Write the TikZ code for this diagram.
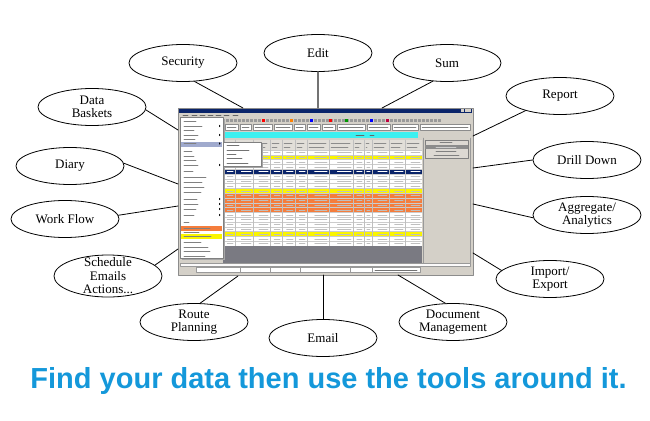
\documentclass[tikz,border=0pt]{standalone}
\usepackage{fontspec}
\setmainfont{Liberation Serif}
\newfontfamily\headfont{Liberation Sans}
\usepackage{tikz}
\usetikzlibrary{shapes}
\definecolor{winnavy}{RGB}{10,36,106}
\definecolor{wingray}{RGB}{212,208,200}
\definecolor{rowyellow}{RGB}{250,245,0}
\definecolor{roworange}{RGB}{245,125,60}
\definecolor{rowcyan}{RGB}{60,240,240}
\definecolor{darkarea}{RGB}{122,122,130}
\definecolor{menublue}{RGB}{160,170,205}
\definecolor{headblue}{RGB}{20,152,218}
\tikzset{tool/.style={draw,ellipse,line width=0.8pt,minimum width=108pt,minimum height=37pt,inner xsep=0pt,inner ysep=-6pt,align=center,font=\fontsize{13}{13.5}\selectfont}}
\tikzset{link/.style={draw,line width=0.8pt}}

\begin{document}
\begin{tikzpicture}[line cap=round,line join=round,x=1pt,y=-1pt]
		\useasboundingbox (0,0) rectangle (650,420);
		% screen shot of the program
		\fill[wingray] (178,108) rectangle (473,275);
		\draw[black!45] (178,108) rectangle (473,275);
		\fill[winnavy] (179,108.5) rectangle (472,113);
		\foreach \x in {461,464.5,468} \fill[wingray] (\x,109.3) rectangle +(3,3);
		\foreach \x in {183,192,200,208,216,224,233} \draw[black!60,line width=0.6pt] (\x,115) -- +(5,0);
		\foreach \x in {226,230,...,440} \fill[black!40] (\x,119) rectangle +(2.5,3);
		\foreach \x/\c in {262/red,290/orange,310/blue,329/red,345/green!60!black,370/blue,386/purple} \fill[\c] (\x,119) rectangle +(2.5,3);
		\foreach \a/\b in {225/238,240/251,253/272,274/292,294/305,307/320,322/335,337/365,367/390,392/418,420/470} {
			\draw[black!45,fill=white,line width=0.4pt] (\a,124.5) rectangle (\b,130.5);
			\draw[black!50,line width=0.5pt] (\a+2,127.5) -- (\b-2,127.5);
		}
		\fill[rowcyan] (223,132) rectangle (418,137.5);
		\draw[black!60,line width=0.6pt] (356,134.8) -- (364,134.8) (370,134.8) -- (374,134.8);
		% table
		\fill[white] (223,140) rectangle (422,246);
		\fill[wingray!70] (223,140) rectangle (422,150);
		\foreach \c [count=\i from 0] in {white,rowyellow,white,white,winnavy,white,white,white,rowyellow,roworange,roworange,roworange,roworange,white,white,white,white,rowyellow,white,white}
			\fill[\c] (223,150+4.8*\i) rectangle (422,154.8+4.8*\i);
		\foreach \i in {0,...,20} \draw[black!20,line width=0.3pt] (223,150+4.8*\i) -- (422,150+4.8*\i);
		\foreach \x in {235,253,270,282,295,307,329,353,364,372,389,405} \draw[black!25,line width=0.3pt] (\x,140) -- (\x,246);
		\foreach \a/\b in {223/235,235/253,253/270,270/282,282/295,295/307,307/329,329/353,353/364,364/372,372/389,389/405,405/422} {
			\draw[black!45,line width=0.5pt] (\a+2,143.5) -- (\b-3,143.5) (\a+2,147) -- (\b-5,147);
			\foreach \i in {0,...,19} \draw[black!25,line width=0.5pt] (\a+0.35*\b-0.35*\a,152.4+4.8*\i) -- (\b-2,152.4+4.8*\i);
			\draw[white,line width=0.5pt] (\a+0.35*\b-0.35*\a,171.6) -- (\b-2,171.6);
		}
		\fill[darkarea] (223,246) rectangle (422,263);
		% right panel
		\draw[black!40] (423,138) -- (423,263);
		\draw[black!40] (470,138) -- (470,263);
		\draw[black!50,fill=wingray!80,line width=0.4pt] (425,140) rectangle (468,158);
		\fill[black!45] (425,145) rectangle (468,149);
		\draw[black!50,line width=0.6pt] (440,142.5) -- (452,142.5) (436,151.5) -- (456,151.5) (434,155.5) -- (459,155.5);
		\draw[black!20,line width=0.6pt] (436,147) -- (456,147);
		% scroll and status bar
		\draw[black!40,fill=white!90!wingray,line width=0.4pt] (180,263) rectangle (470,266.5);
		\draw[black!40,fill=white,line width=0.4pt] (196,267.5) rectangle (420,272.5);
		\foreach \x in {240,270,300,350,372} \draw[black!40,line width=0.4pt] (\x,267.5) -- (\x,272.5);
		\draw[black!55,line width=0.6pt] (375,270) -- (417,270);
		% menu and submenu
		\fill[black!35] (182,119) rectangle (224.5,259.5);
		\draw[black!50,fill=white,line width=0.4pt] (180,117) rectangle (223,258);
		\fill[menublue] (181,142) rectangle (222,146.5);
		\fill[roworange] (181,226) rectangle (222,230.5);
		\fill[rowyellow] (181,234) rectangle (222,238.5);
		\foreach \y/\l in {121/12,126/18,130/10,135/14,139/11,143.5/12,151/8,156/10,160/12,165/14,171/9,177/22,182/18,187/20,192/17,199/13,204/14,209/12,215/10,222/5,228/26,232/15,236.5/27,242/17,247/24,251/26,256/21}
			\draw[black!50,line width=0.6pt] (184,\y) -- +(\l,0);
		\foreach \y in {126,135,143.5,165,199,204,209,215} \fill[black] (219,\y-1.2) -- (220.5,\y) -- (219,\y+1.2) -- cycle;
		\fill[black!35] (225,144) rectangle (262.5,167.5);
		\draw[black!50,fill=white,line width=0.4pt] (223,142) rectangle (261,166);
		\foreach \y/\l in {145.5/12,150/22,154.5/9,158.5/15,163/21} \draw[black!55,line width=0.6pt] (227,\y) -- +(\l,0);
		% tools round the screen
		\node[tool] (security) at (183,63) {Security};
		\node[tool] (edit) at (318,53) {Edit};
		\node[tool] (sum) at (447,63) {Sum};
		\node[tool] (report) at (560,96) {Report};
		\node[tool] (drill) at (587,160) {Drill Down};
		\node[tool] (aggr) at (587,215) {Aggregate/\\Analytics};
		\node[tool] (import) at (550,279) {Import/\\Export};
		\node[tool] (docs) at (453,322) {Document\\Management};
		\node[tool] (email) at (323,338) {Email};
		\node[tool] (route) at (194,322) {Route\\Planning};
		\node[tool,minimum height=42pt] (sched) at (108,276) {Schedule\\Emails\\Actions...};
		\node[tool] (flow) at (65,219) {Work Flow};
		\node[tool] (diary) at (70,166) {Diary};
		\node[tool] (baskets) at (92,107) {Data\\Baskets};
		% ends of the connectors on the screen
		\coordinate (pSec) at (243,108);
		\coordinate (pEdit) at (318,108);
		\coordinate (pSum) at (382,108);
		\coordinate (pReport) at (473,136);
		\coordinate (pDrill) at (473,168);
		\coordinate (pAggr) at (473,204);
		\coordinate (pImport) at (473,253);
		\coordinate (pDocs) at (398,275);
		\coordinate (pEmail) at (323,275);
		\coordinate (pRoute) at (238,276);
		\coordinate (pSched) at (178,249);
		\coordinate (pFlow) at (178,206);
		\coordinate (pDiary) at (178,184);
		\coordinate (pBaskets) at (178,130);
		\draw[link] (security.-58) -- (pSec);
		\draw[link,black!55,line width=1.4pt] (edit.south) -- (pEdit);
		\draw[link] (sum.-128) -- (pSum);
		\draw[link] (report.-157) -- (pReport);
		\draw[link] (drill.west) -- (pDrill);
		\draw[link] (aggr.-177) -- (pAggr);
		\draw[link] (import.170) -- (pImport);
		\draw[link] (docs.112) -- (pDocs);
		\draw[link] (email.north) -- (pEmail);
		\draw[link] (route.72) -- (pRoute);
		\draw[link] (sched.13) -- (pSched);
		\draw[link] (flow.4) -- (pFlow);
		\draw[link] (diary.3) -- (pDiary);
		\draw[link] (baskets.-3) -- (pBaskets);
		\node[font=\headfont\bfseries\fontsize{29}{29}\selectfont,text=headblue,anchor=base] (slogan) at (328.5,388) {Find your data then use the tools around it.};
		
		\end{tikzpicture}
\end{document}
